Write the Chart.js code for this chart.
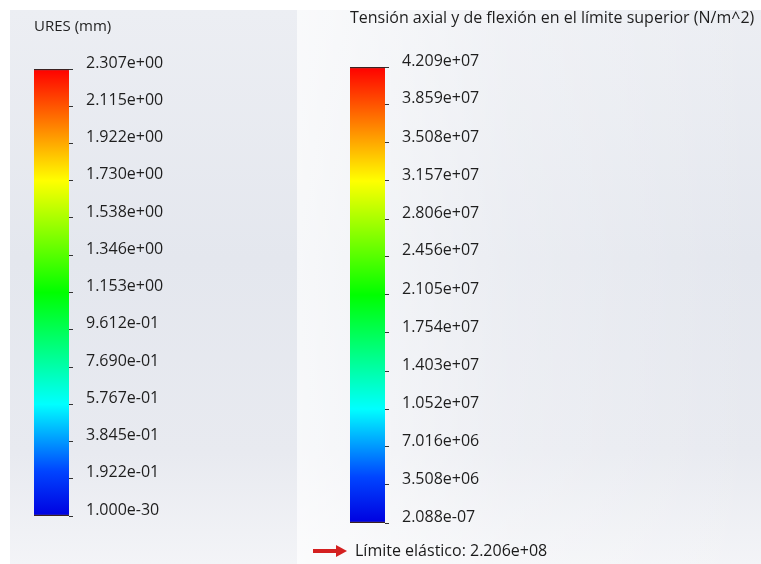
<!DOCTYPE html>
<html>
<head>
<meta charset="utf-8">
<script src="https://cdn.jsdelivr.net/npm/chart.js@4.4.1/dist/chart.umd.min.js"></script>
<style>
  body { margin: 0; background: #fff; width: 761px; height: 564px; overflow: hidden; position: relative; font-family: "Open Sans", sans-serif; }
  .panel { position: absolute; top: 10px; height: 554px; }
  #leftPanel { left: 10px; width: 287px; background: linear-gradient(to bottom, #eceef3 0%, #e4e7ee 45%, #e8eaf0 80%, #f3f4f7 100%); }
  #rightPanel { left: 297px; width: 464px;
    background: linear-gradient(to right, rgba(255,255,255,0.7) 0%, rgba(255,255,255,0.25) 45%, rgba(255,255,255,0) 100%),
                linear-gradient(to bottom, #eceef3 0%, #e4e7ee 45%, #e8eaf0 80%, #f3f4f7 100%); }
  canvas { position: absolute; left: 0; top: 0; }
</style>
</head>
<body>
<div class="panel" id="leftPanel"><canvas id="uresChart" width="287" height="554"></canvas></div>
<div class="panel" id="rightPanel"><canvas id="stressChart" width="464" height="554"></canvas></div>
<script>
// left legend: displacement
const uresTitle = 'URES (mm)';
const uresLabels = ['2.307e+00', '2.115e+00', '1.922e+00', '1.730e+00', '1.538e+00', '1.346e+00', '1.153e+00',
    '9.612e-01', '7.690e-01', '5.767e-01', '3.845e-01', '1.922e-01', '1.000e-30'];
const uresRange = [1.000e-30, 2.307e+00];

// right legend: stress
const stressTitle = 'Tensión axial y de flexión en el límite superior (N/m^2)';
const stressLabels = ['4.209e+07', '3.859e+07', '3.508e+07', '3.157e+07', '2.806e+07', '2.456e+07', '2.105e+07',
    '1.754e+07', '1.403e+07', '1.052e+07', '7.016e+06', '3.508e+06', '2.088e-07'];
const stressRange = [2.088e-07, 4.209e+07];
const yieldLabel = 'Límite elástico: 2.206e+08';

const rainbow = [[0, '#ff0000'], [0.12, '#ff7a00'], [0.25, '#ffff00'], [0.5, '#00ff00'], [0.75, '#00ffff'], [0.9, '#0044ff'], [1, '#0000e0']];

const fontFamily = '"Open Sans", sans-serif';

function rainbowFill(c) {
    const chart = c.chart;
    const area = chart.chartArea;
    if (!area) return '#ff0000';
    const g = chart.ctx.createLinearGradient(0, area.top, 0, area.bottom);
    rainbow.forEach(s => g.addColorStop(s[0], s[1]));
    return g;
}

const yieldMarker = {
    id: 'yieldMarker',
    afterDraw(chart, args, opts) {
        if (!opts.text) return;
        const ctx = chart.ctx;
        const area = chart.chartArea;
        const y = area.bottom + 28;
        const x0 = area.left - 37;
        const x1 = area.left - 3;
        ctx.save();
        ctx.fillStyle = '#d42020';
        ctx.fillRect(x0, y - 2, x1 - x0 - 9, 4);
        ctx.beginPath();
        ctx.moveTo(x1 - 11, y - 6);
        ctx.lineTo(x1, y);
        ctx.lineTo(x1 - 11, y + 6);
        ctx.closePath();
        ctx.fill();
        ctx.fillStyle = '#1a1a1a';
        ctx.font = '16px ' + fontFamily;
        ctx.textBaseline = 'middle';
        ctx.fillText(opts.text, area.left + 5, y);
        ctx.restore();
    }
};

function makeBar(id, title, labels, range, o) {
    const tickValues = labels.map(Number);
    return new Chart(document.getElementById(id), {
        type: 'bar',
        data: {
            labels: [''],
            datasets: [{
                data: [[range[0], range[1]]],
                backgroundColor: rainbowFill,
                borderColor: '#3b2222',
                borderWidth: { top: 1.5, bottom: 1.5, left: 0, right: 0 },
                borderSkipped: false,
                barPercentage: 1,
                categoryPercentage: 1
            }]
        },
        options: {
            responsive: false,
            animation: false,
            events: [],
            layout: { padding: { left: o.left, right: 0, top: 0, bottom: o.bottom } },
            scales: {
                x: { display: false },
                y: {
                    position: 'right',
                    min: range[0],
                    max: range[1],
                    afterBuildTicks: scale => { scale.ticks = tickValues.map(v => ({ value: v })); },
                    afterFit: scale => { scale.width = o.axisWidth; },
                    border: { display: false },
                    grid: { drawOnChartArea: false, tickLength: 4, color: '#333', lineWidth: 1 },
                    ticks: {
                        autoSkip: false,
                        padding: 13,
                        labelOffset: -6,
                        color: '#1e1e1e',
                        font: { family: fontFamily, size: 16 },
                        callback: (v, i) => labels[i]
                    }
                }
            },
            plugins: {
                legend: { display: false },
                tooltip: { enabled: false },
                title: {
                    display: true,
                    text: title,
                    align: 'start',
                    color: '#1e1e1e',
                    font: { family: fontFamily, size: o.titleSize, weight: 'normal', lineHeight: 1 },
                    padding: { top: o.titleTop, bottom: o.titleBottom }
                },
                yieldMarker: { text: o.marker || '' }
            }
        },
        plugins: [yieldMarker]
    });
}

makeBar('uresChart', uresTitle, uresLabels, uresRange,
    { left: 24, axisWidth: 287 - 59, bottom: 48, titleSize: 15, titleTop: 9, titleBottom: 35 });
makeBar('stressChart', stressTitle, stressLabels, stressRange,
    { left: 53, axisWidth: 464 - 88, bottom: 41, titleSize: 16, titleTop: 0, titleBottom: 41, marker: yieldLabel });
</script>
</body>
</html>
